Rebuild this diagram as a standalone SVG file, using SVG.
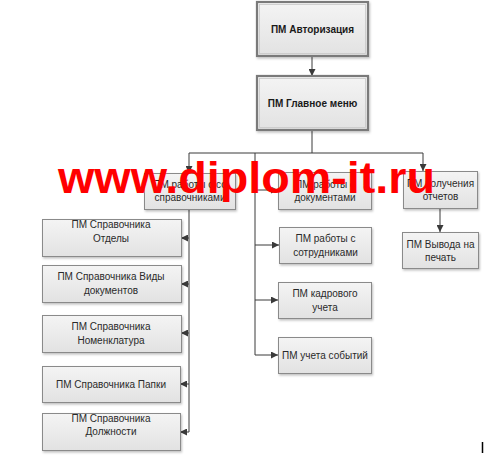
<svg xmlns="http://www.w3.org/2000/svg" width="502" height="460" viewBox="0 0 502 460">
<defs>
<linearGradient id="g" x1="0" y1="0" x2="0" y2="1">
<stop offset="0" stop-color="#f4f4f4"/>
<stop offset="1" stop-color="#e2e2e2"/>
</linearGradient>
<marker id="ar" viewBox="0 0 10 10" refX="10" refY="5" markerWidth="7" markerHeight="7" markerUnits="userSpaceOnUse" orient="auto">
<path d="M0,0 L10,5 L0,10 z" fill="#3a3a3a"/>
</marker>
<filter id="sh" x="-10%" y="-10%" width="130%" height="140%">
<feDropShadow dx="1" dy="1.5" stdDeviation="0.8" flood-color="#000" flood-opacity="0.25"/>
</filter>
</defs>
<style>
.box{fill:url(#g);stroke:#8a8a8a;stroke-width:1;filter:url(#sh)}
.top{fill:url(#g);stroke:#7a7a7a;stroke-width:2.2;filter:url(#sh)}
.inner{fill:none;stroke:#c8c8c8;stroke-width:0.8}
.t{font-family:"Liberation Sans",Arial,sans-serif;font-size:10px;fill:#2a2a2a;text-anchor:middle}
.tb{font-family:"Liberation Sans",Arial,sans-serif;font-size:10px;font-weight:bold;fill:#1a1a1a;text-anchor:middle}
.c{fill:none;stroke:#3a3a3a;stroke-width:1}
.wm{font-family:"Liberation Sans",Arial,sans-serif;font-size:44px;font-weight:bold;fill:#ff0000}
</style>
<rect width="502" height="460" fill="#ffffff"/>
<g id="connectors">
<line class="c" x1="312" y1="56" x2="312" y2="76" marker-end="url(#ar)"/>
<line class="c" x1="312" y1="130" x2="312" y2="153"/>
<line class="c" x1="189" y1="153" x2="423" y2="153"/>
<line class="c" x1="189" y1="153" x2="189" y2="173" marker-end="url(#ar)"/>
<line class="c" x1="423" y1="153" x2="423" y2="171" marker-end="url(#ar)"/>
<line class="c" x1="255" y1="153" x2="255" y2="355"/>
<line class="c" x1="255" y1="190" x2="278" y2="190" marker-end="url(#ar)"/>
<line class="c" x1="255" y1="245" x2="279" y2="245" marker-end="url(#ar)"/>
<line class="c" x1="255" y1="300" x2="278" y2="300" marker-end="url(#ar)"/>
<line class="c" x1="255" y1="355" x2="278" y2="355" marker-end="url(#ar)"/>
<line class="c" x1="440" y1="208" x2="440" y2="232" marker-end="url(#ar)"/>
<line class="c" x1="189" y1="209" x2="189" y2="432"/>
<line class="c" x1="189" y1="238" x2="181" y2="238" marker-end="url(#ar)"/>
<line class="c" x1="189" y1="284" x2="181" y2="284" marker-end="url(#ar)"/>
<line class="c" x1="189" y1="333" x2="181" y2="333" marker-end="url(#ar)"/>
<line class="c" x1="189" y1="384" x2="180" y2="384" marker-end="url(#ar)"/>
<line class="c" x1="189" y1="432" x2="180" y2="432" marker-end="url(#ar)"/>
</g>
<g id="auth">
<rect class="top" x="257" y="2" width="111" height="54"/>
<rect class="inner" x="259.5" y="4.5" width="106" height="49"/>
<text class="tb" x="312.5" y="32.5">ПМ Авторизация</text>
</g>
<g id="main">
<rect class="top" x="257" y="76" width="111" height="54"/>
<rect class="inner" x="259.5" y="78.5" width="106" height="49"/>
<text class="tb" x="312.5" y="106.5">ПМ Главное меню</text>
</g>
<g id="spr">
<rect class="box" x="144.5" y="173.5" width="91" height="36"/>
<text class="t" x="190" y="188">ПМ работы с со</text>
<text class="t" x="190" y="201">справочниками</text>
</g>
<g id="doc">
<rect class="box" x="278.5" y="172.5" width="93" height="37"/>
<text class="t" x="325" y="188">ПМ работы с</text>
<text class="t" x="325" y="201">документами</text>
</g>
<g id="otch">
<rect class="box" x="403.5" y="171.5" width="74" height="37"/>
<text class="t" x="440.5" y="187">ПМ получения</text>
<text class="t" x="440.5" y="200">отчетов</text>
</g>
<g id="print">
<rect class="box" x="402.5" y="232.5" width="76" height="36"/>
<text class="t" x="440.5" y="248">ПМ Вывода на</text>
<text class="t" x="440.5" y="261">печать</text>
</g>
<g id="sotr">
<rect class="box" x="279.5" y="227.5" width="92" height="36"/>
<text class="t" x="325.5" y="242">ПМ работы с</text>
<text class="t" x="325.5" y="255.5">сотрудниками</text>
</g>
<g id="kadr">
<rect class="box" x="278.5" y="282.5" width="93" height="36"/>
<text class="t" x="325" y="297">ПМ кадрового</text>
<text class="t" x="325" y="310.5">учета</text>
</g>
<g id="sobyt">
<rect class="box" x="278.5" y="337.5" width="93" height="36"/>
<text class="t" x="325" y="358.5">ПМ учета событий</text>
</g>
<g id="otdely">
<rect class="box" x="42.5" y="219.5" width="139" height="37"/>
<text class="t" x="111" y="228">ПМ Справочника</text>
<text class="t" x="111" y="241.5">Отделы</text>
</g>
<g id="vidy">
<rect class="box" x="42.5" y="265.5" width="139" height="37"/>
<text class="t" x="111" y="279.5">ПМ Справочника  Виды</text>
<text class="t" x="111" y="293.5">документов</text>
</g>
<g id="nomen">
<rect class="box" x="42.5" y="315.5" width="139" height="37"/>
<text class="t" x="111" y="330">ПМ Справочника</text>
<text class="t" x="111" y="343.5">Номенклатура</text>
</g>
<g id="papki">
<rect class="box" x="42.5" y="366.5" width="138" height="36"/>
<text class="t" x="111" y="387.5">ПМ Справочника Папки</text>
</g>
<g id="dolzh">
<rect class="box" x="42.5" y="413.5" width="138" height="37"/>
<text class="t" x="111" y="421.5">ПМ Справочника</text>
<text class="t" x="111" y="435">Должности</text>
</g>
<text class="wm" x="58" y="193" textLength="377" lengthAdjust="spacingAndGlyphs">www.diplom-it.ru</text>
<line x1="482.5" y1="442" x2="482.5" y2="453" stroke="#000" stroke-width="1.5"/>
</svg>
